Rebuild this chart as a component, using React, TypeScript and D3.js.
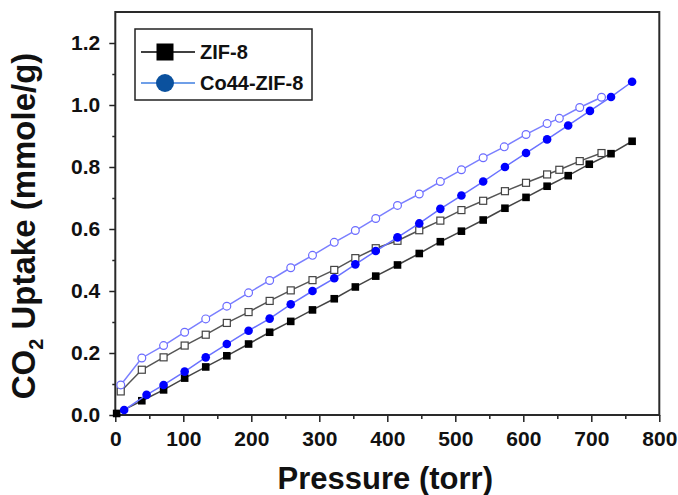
import React, { useRef, useEffect } from "react";
import * as d3 from "d3";

// ZIF-8 adsorption (filled squares)
const zifAdsPressure = [2, 39, 71, 102, 133, 164, 196, 227, 258, 290, 322, 353, 383, 415, 447, 478, 509, 541, 573, 604, 635, 666, 697, 729, 760];
const zifAdsUptake = [0.005, 0.046, 0.081, 0.119, 0.155, 0.191, 0.229, 0.267, 0.302, 0.339, 0.375, 0.413, 0.448, 0.484, 0.521, 0.559, 0.593, 0.629, 0.667, 0.702, 0.738, 0.772, 0.809, 0.843, 0.883];

// ZIF-8 desorption (open squares)
const zifDesPressure = [8, 39, 71, 102, 133, 164, 196, 227, 258, 290, 322, 353, 383, 415, 447, 478, 509, 541, 573, 604, 635, 653, 683, 715];
const zifDesUptake = [0.076, 0.146, 0.186, 0.224, 0.259, 0.297, 0.332, 0.368, 0.402, 0.435, 0.468, 0.506, 0.538, 0.562, 0.596, 0.627, 0.661, 0.691, 0.722, 0.749, 0.776, 0.791, 0.819, 0.845];

// Co44-ZIF-8 adsorption (filled circles)
const coAdsPressure = [13, 46, 71, 102, 133, 164, 196, 227, 258, 290, 322, 353, 383, 415, 447, 478, 509, 541, 573, 604, 635, 666, 698, 729, 760];
const coAdsUptake = [0.016, 0.065, 0.097, 0.14, 0.186, 0.229, 0.272, 0.311, 0.357, 0.4, 0.441, 0.486, 0.529, 0.573, 0.618, 0.665, 0.708, 0.753, 0.8, 0.845, 0.889, 0.934, 0.981, 1.026, 1.075];

// Co44-ZIF-8 desorption (open circles)
const coDesPressure = [8, 39, 71, 102, 133, 164, 196, 227, 258, 290, 322, 353, 383, 415, 447, 478, 509, 541, 572, 604, 635, 653, 683, 715];
const coDesUptake = [0.097, 0.184, 0.224, 0.267, 0.31, 0.351, 0.394, 0.434, 0.475, 0.515, 0.557, 0.595, 0.634, 0.676, 0.713, 0.753, 0.791, 0.83, 0.865, 0.905, 0.94, 0.957, 0.992, 1.025];

const xMajorTicks = [0, 100, 200, 300, 400, 500, 600, 700, 800];
const xMinorTicks = [50, 150, 250, 350, 450, 550, 650, 750];
const yMajorTicks = [0, 0.2, 0.4, 0.6, 0.8, 1.0, 1.2];
const yMinorTicks = [0.1, 0.3, 0.5, 0.7, 0.9, 1.1];

const legendLabels = ["ZIF-8", "Co44-ZIF-8"];

const FONT = "'Liberation Sans', Arial, sans-serif";

export default function App() {
  const svgRef = useRef<SVGSVGElement>(null);

  useEffect(() => {
    const width = 678;
    const height = 495;
    const svg = d3.select(svgRef.current);
    svg.selectAll("*").remove();
    svg.attr("width", width).attr("height", height);

    svg.append("rect").attr("width", width).attr("height", height).attr("fill", "white");

    const x = d3.scaleLinear().domain([0, 800]).range([115.3, 659.3]);
    const y = d3.scaleLinear().domain([0, 1.3]).range([415, 12]);

    const styleAxis = (g) => {
      g.select(".domain").remove();
      g.selectAll("line").attr("stroke", "#222").attr("stroke-width", 1.5);
      g.selectAll("text")
        .attr("fill", "#111")
        .style("font-family", FONT)
        .style("font-weight", "bold")
        .style("font-size", "21px");
    };

    // x axis
    svg.append("g")
      .attr("transform", `translate(0,${y(0)})`)
      .call(d3.axisBottom(x).tickValues(xMajorTicks).tickSize(7).tickPadding(9).tickFormat(d3.format("d")))
      .call(styleAxis);
    svg.append("g")
      .attr("transform", `translate(0,${y(0)})`)
      .call(d3.axisBottom(x).tickValues(xMinorTicks).tickSize(4).tickFormat(() => ""))
      .call(styleAxis);

    // y axis
    svg.append("g")
      .attr("transform", `translate(${x(0)},0)`)
      .call(d3.axisLeft(y).tickValues(yMajorTicks).tickSize(6).tickPadding(9).tickFormat(d3.format(".1f")))
      .call(styleAxis);
    svg.append("g")
      .attr("transform", `translate(${x(0)},0)`)
      .call(d3.axisLeft(y).tickValues(yMinorTicks).tickSize(3).tickFormat(() => ""))
      .call(styleAxis);

    // frame
    svg.append("rect")
      .attr("x", x(0))
      .attr("y", y(1.3))
      .attr("width", x(800) - x(0))
      .attr("height", y(0) - y(1.3))
      .attr("fill", "none")
      .attr("stroke", "#2a2a2a")
      .attr("stroke-width", 2);

    const plot = svg.append("g");
    const line = d3.line<[number, number]>().x((d) => x(d[0])).y((d) => y(d[1]));
    const zip = (px: number[], py: number[]) => px.map((p, i) => [p, py[i]] as [number, number]);

    const drawSeries = (pts, lineColor, marker) => {
      plot.append("path")
        .attr("d", line(pts))
        .attr("fill", "none")
        .attr("stroke", lineColor)
        .attr("stroke-width", 1.5);
      const g = plot.append("g");
      pts.forEach((d) => marker(g, x(d[0]), y(d[1])));
    };

    const filledSquare = (g, cx, cy) =>
      g.append("rect").attr("x", cx - 3.8).attr("y", cy - 3.8).attr("width", 7.6).attr("height", 7.6).attr("fill", "#000");
    const openSquare = (g, cx, cy) =>
      g.append("rect").attr("x", cx - 3.5).attr("y", cy - 3.5).attr("width", 7).attr("height", 7)
        .attr("fill", "white").attr("stroke", "#444").attr("stroke-width", 1.2);
    const filledCircle = (g, cx, cy) =>
      g.append("circle").attr("cx", cx).attr("cy", cy).attr("r", 4.3).attr("fill", "#0000ff");
    const openCircle = (g, cx, cy) =>
      g.append("circle").attr("cx", cx).attr("cy", cy).attr("r", 3.9)
        .attr("fill", "white").attr("stroke", "#6b6bff").attr("stroke-width", 1.2);

    drawSeries(zip(zifDesPressure, zifDesUptake), "#555", openSquare);
    drawSeries(zip(zifAdsPressure, zifAdsUptake), "#444", filledSquare);
    drawSeries(zip(coDesPressure, coDesUptake), "#7a7fff", openCircle);
    drawSeries(zip(coAdsPressure, coAdsUptake), "#6a72ff", filledCircle);

    // legend
    const legend = svg.append("g");
    legend.append("rect")
      .attr("x", 135).attr("y", 29).attr("width", 177).attr("height", 71)
      .attr("fill", "white").attr("stroke", "#222").attr("stroke-width", 1.5);
    legend.append("line").attr("x1", 141).attr("x2", 195).attr("y1", 52).attr("y2", 52)
      .attr("stroke", "#000").attr("stroke-width", 1.5);
    legend.append("rect").attr("x", 156.5).attr("y", 43.5).attr("width", 17).attr("height", 17).attr("fill", "#000");
    legend.append("line").attr("x1", 141).attr("x2", 195).attr("y1", 83).attr("y2", 83)
      .attr("stroke", "#3f7fe0").attr("stroke-width", 1.5);
    legend.append("circle").attr("cx", 165).attr("cy", 83).attr("r", 9).attr("fill", "#0b519e");
    legend.selectAll("text.lbl")
      .data(legendLabels)
      .enter()
      .append("text")
      .attr("x", 200)
      .attr("y", (d, i) => 59 + i * 31)
      .text((d) => d)
      .style("font-family", FONT)
      .style("font-weight", "bold")
      .style("font-size", "20px")
      .attr("fill", "#111");

    // axis titles
    svg.append("text")
      .attr("x", (x(0) + x(800)) / 2 - 2)
      .attr("y", 489)
      .attr("text-anchor", "middle")
      .style("font-family", FONT)
      .style("font-weight", "bold")
      .style("font-size", "31px")
      .attr("fill", "#111")
      .text("Pressure (torr)");

    const yTitle = svg.append("text")
      .attr("transform", `translate(35,226) rotate(-90)`)
      .attr("text-anchor", "middle")
      .style("font-family", FONT)
      .style("font-weight", "bold")
      .style("font-size", "33px")
      .attr("fill", "#111");
    yTitle.append("tspan").text("CO");
    yTitle.append("tspan").attr("dy", 8).style("font-size", "20px").text("2");
    yTitle.append("tspan").attr("dy", -8).text(" Uptake (mmole/g)");
  }, []);

  return (
    <svg ref={svgRef} style={{ position: "absolute", left: 0, top: 0 }}></svg>
  );
}
